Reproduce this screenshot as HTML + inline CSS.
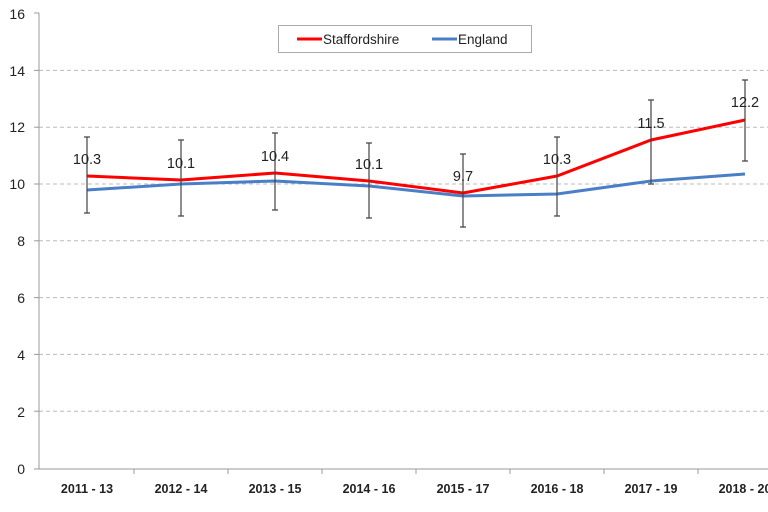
<!DOCTYPE html>
<html><head><style>body{margin:0;background:#fff}svg{display:block}</style></head><body>
<svg width="768" height="512" xmlns="http://www.w3.org/2000/svg" font-family="Liberation Sans, sans-serif">
<g stroke="#bbb" stroke-dasharray="4,3" stroke-width="1">
<line x1="39" x2="768" y1="411.2" y2="411.2"/><line x1="39" x2="768" y1="354.4" y2="354.4"/>
<line x1="39" x2="768" y1="297.6" y2="297.6"/><line x1="39" x2="768" y1="240.8" y2="240.8"/>
<line x1="39" x2="768" y1="184" y2="184"/><line x1="39" x2="768" y1="127.2" y2="127.2"/>
<line x1="39" x2="768" y1="70.4" y2="70.4"/>
</g>
<g stroke="#999" stroke-width="1">
<line x1="39" x2="39" y1="13" y2="469"/><line x1="39" x2="768" y1="469" y2="469"/>
<line x1="34" x2="39" y1="469" y2="469"/><line x1="34" x2="39" y1="411.2" y2="411.2"/><line x1="34" x2="39" y1="354.4" y2="354.4"/><line x1="34" x2="39" y1="297.6" y2="297.6"/><line x1="34" x2="39" y1="240.8" y2="240.8"/><line x1="34" x2="39" y1="184" y2="184"/><line x1="34" x2="39" y1="127.2" y2="127.2"/><line x1="34" x2="39" y1="70.4" y2="70.4"/><line x1="34" x2="39" y1="13" y2="13"/>
<line x1="134" x2="134" y1="469" y2="474"/><line x1="228" x2="228" y1="469" y2="474"/><line x1="322" x2="322" y1="469" y2="474"/><line x1="416" x2="416" y1="469" y2="474"/><line x1="510" x2="510" y1="469" y2="474"/><line x1="604" x2="604" y1="469" y2="474"/><line x1="698" x2="698" y1="469" y2="474"/>
</g>
<g font-size="14" fill="#222" text-anchor="end">
<text x="25" y="474">0</text><text x="25" y="417">2</text><text x="25" y="360">4</text><text x="25" y="303">6</text><text x="25" y="246">8</text><text x="25" y="189">10</text><text x="25" y="132">12</text><text x="25" y="76">14</text><text x="25" y="19">16</text>
</g>
<g font-size="12.5" font-weight="bold" fill="#222" text-anchor="middle">
<text x="87" y="493">2011 - 13</text><text x="181" y="493">2012 - 14</text><text x="275" y="493">2013 - 15</text><text x="369" y="493">2014 - 16</text><text x="463" y="493">2015 - 17</text><text x="557" y="493">2016 - 18</text><text x="651" y="493">2017 - 19</text><text x="745" y="493">2018 - 20</text>
</g>
<polyline fill="none" stroke="#4a7fc8" stroke-width="3" points="87,190 181,184 275,181 369,186 463,196 557,194 651,181 745,174"/>
<polyline fill="none" stroke="#ff0000" stroke-width="3" points="87,176 181,180 275,173 369,181 463,193 557,176 651,140 745,120"/>
<g stroke="#444" stroke-width="1.2">
<path d="M87,213V137M84,213h6M84,137h6"/>
<path d="M181,216V140M178,216h6M178,140h6"/>
<path d="M275,210V133M272,210h6M272,133h6"/>
<path d="M369,218V143M366,218h6M366,143h6"/>
<path d="M463,227V154M460,227h6M460,154h6"/>
<path d="M557,216V137M554,216h6M554,137h6"/>
<path d="M651,184V100M648,184h6M648,100h6"/>
<path d="M745,161V80M742,161h6M742,80h6"/>
</g>
<g font-size="14.5" fill="#222" text-anchor="middle">
<text x="87" y="164">10.3</text><text x="181" y="168">10.1</text><text x="275" y="161">10.4</text><text x="369" y="169">10.1</text><text x="463" y="181">9.7</text><text x="557" y="164">10.3</text><text x="651" y="128">11.5</text><text x="745" y="107">12.2</text>
</g>
<rect x="278.5" y="25.5" width="253" height="27" fill="#fff" stroke="#aaa"/>
<line x1="297" x2="322" y1="39" y2="39" stroke="#ff0000" stroke-width="3"/>
<text x="323" y="44" font-size="13.5" fill="#222">Staffordshire</text>
<line x1="432" x2="457" y1="39" y2="39" stroke="#4a7fc8" stroke-width="3"/>
<text x="458" y="44" font-size="13.5" fill="#222">England</text>
</svg>
</body></html>
